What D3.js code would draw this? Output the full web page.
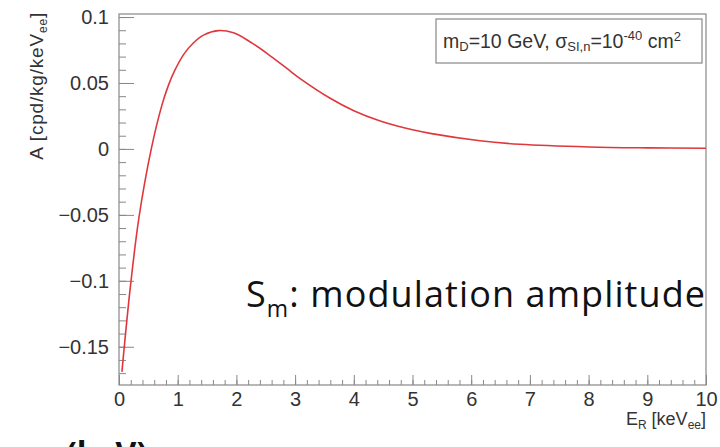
<!DOCTYPE html>
<html>
<head>
<meta charset="utf-8">
<script src="https://cdn.jsdelivr.net/npm/d3@7"></script>
<style>
  body { margin: 0; background: #fff; }
  svg { display: block; }
  .axis text { font-family: "Liberation Sans", Arial, sans-serif; fill: #333; }
  .axis line, .axis path { stroke: #888; }
</style>
</head>
<body>
<div id="chart"></div>
<script>
// recoil energy (keVee) and modulation amplitude
const energy = [0.05, 0.09, 0.2, 0.34, 0.55, 0.73, 0.84, 0.95, 1.1, 1.27, 1.44, 1.69, 1.95,
  2.23, 2.52, 2.86, 3.08, 3.59, 4.0, 4.45, 5.0, 5.3, 6.15, 6.83, 8, 9, 10];
const amplitude = [-0.169, -0.15, -0.102, -0.052, 0, 0.033, 0.048, 0.0595, 0.0715, 0.0805, 0.0863, 0.0897, 0.088,
  0.0813, 0.0725, 0.061, 0.0535, 0.0386, 0.029, 0.0212, 0.0145, 0.0118, 0.0062, 0.0035, 0.0015, 0.0008, 0.0005];
const xTicks = [0, 1, 2, 3, 4, 5, 6, 7, 8, 9, 10];
const yTicks = [-0.15, -0.1, -0.05, 0, 0.05, 0.1];
const yTickLabels = ['−0.15', '−0.1', '−0.05', '0', '0.05', '0.1'];

const data = energy.map((e, i) => ({e, a: amplitude[i]}));

const W = 720, H = 447;
const frame = {left: 119, right: 706, top: 14, bottom: 385};

const svg = d3.select('#chart').append('svg')
  .attr('width', W)
  .attr('height', H);

const x = d3.scaleLinear().domain([0, 10]).range([frame.left, frame.right]);
const y = d3.scaleLinear().domain([-0.179, 0.1023]).range([frame.bottom, frame.top]);

// frame box
svg.append('rect')
  .attr('x', frame.left)
  .attr('y', frame.top)
  .attr('width', frame.right - frame.left)
  .attr('height', frame.bottom - frame.top)
  .attr('fill', 'none')
  .attr('stroke', '#888')
  .attr('stroke-width', 1.2);

// minor ticks
svg.append('g')
  .attr('class', 'axis')
  .attr('transform', `translate(${frame.left},0)`)
  .call(d3.axisLeft(y).tickValues(d3.range(-0.17, 0.1001, 0.01)).tickSize(-7).tickFormat(''))
  .call(g => g.select('.domain').remove());
svg.append('g')
  .attr('class', 'axis')
  .attr('transform', `translate(0,${frame.bottom})`)
  .call(d3.axisBottom(x).tickValues(d3.range(0, 10.001, 0.2)).tickSize(-5).tickFormat(''))
  .call(g => g.select('.domain').remove());

// major ticks + labels
svg.append('g')
  .attr('class', 'axis')
  .attr('transform', `translate(${frame.left},0)`)
  .call(d3.axisLeft(y).tickValues(yTicks).tickSize(-15)
    .tickFormat((d, i) => yTickLabels[i]))
  .call(g => g.select('.domain').remove())
  .call(g => g.selectAll('text').attr('font-size', 20).attr('x', -10));
svg.append('g')
  .attr('class', 'axis')
  .attr('transform', `translate(0,${frame.bottom})`)
  .call(d3.axisBottom(x).tickValues(xTicks).tickSize(-10).tickFormat(d3.format('d')))
  .call(g => g.select('.domain').remove())
  .call(g => g.selectAll('text').attr('font-size', 20).attr('y', 7));

// curve
const line = d3.line()
  .x(d => x(d.e))
  .y(d => y(d.a))
  .curve(d3.curveCatmullRom.alpha(0.5));
svg.append('path')
  .datum(data)
  .attr('d', line)
  .attr('fill', 'none')
  .attr('stroke', '#e0373c')
  .attr('stroke-width', 1.6);

// axis titles
const sans = '"Liberation Sans", Arial, sans-serif';
const yTitle = svg.append('text')
  .attr('transform', `translate(43,${frame.top - 2}) rotate(-90)`)
  .attr('text-anchor', 'end')
  .attr('font-family', sans)
  .attr('font-size', 19)
  .attr('letter-spacing', 0.8)
  .attr('fill', '#333');
yTitle.append('tspan').text('A [cpd/kg/keV');
yTitle.append('tspan').attr('font-size', 12).attr('dy', 4).text('ee');
yTitle.append('tspan').attr('dy', -4).text(']');

const xTitle = svg.append('text')
  .attr('x', frame.right)
  .attr('y', 425)
  .attr('text-anchor', 'end')
  .attr('font-family', sans)
  .attr('font-size', 18)
  .attr('fill', '#333');
xTitle.append('tspan').text('E');
xTitle.append('tspan').attr('font-size', 12).attr('dy', 4).text('R');
xTitle.append('tspan').attr('dy', -4).text(' [keV');
xTitle.append('tspan').attr('font-size', 12).attr('dy', 4).text('ee');
xTitle.append('tspan').attr('dy', -4).text(']');

// legend box
svg.append('rect')
  .attr('x', 436)
  .attr('y', 19)
  .attr('width', 266)
  .attr('height', 44)
  .attr('fill', '#fff')
  .attr('stroke', '#888')
  .attr('stroke-width', 1.2);
const leg = svg.append('text')
  .attr('x', 443)
  .attr('y', 48)
  .attr('font-family', sans)
  .attr('font-size', 19.5)
  .attr('fill', '#333');
leg.append('tspan').text('m');
leg.append('tspan').attr('font-size', 13).attr('dy', 3).text('D');
leg.append('tspan').attr('dy', -3).text('=10 GeV, σ');
leg.append('tspan').attr('font-size', 13).attr('dy', 3).text('SI,n');
leg.append('tspan').attr('dy', -3).text('=10');
leg.append('tspan').attr('font-size', 13).attr('dy', -8).text('-40');
leg.append('tspan').attr('dy', 8).text(' cm');
leg.append('tspan').attr('font-size', 13).attr('dy', -7).text('2');

// slide annotation
const note = svg.append('text')
  .attr('x', 246)
  .attr('y', 307)
  .attr('font-family', '"Open Sans", Lato, sans-serif')
  .attr('font-size', 36)
  .attr('letter-spacing', 1.1)
  .attr('fill', '#111');
note.append('tspan').text('S');
note.append('tspan').attr('font-size', 23).attr('dy', 10).text('m');
note.append('tspan').attr('dy', -10).text(': modulation amplitude');

svg.append('text')
  .attr('x', 66)
  .attr('y', 465)
  .attr('font-family', '"Open Sans", Lato, sans-serif')
  .attr('font-weight', 'bold')
  .attr('font-size', 32)
  .attr('fill', '#111')
  .text('(keV)');
</script>
</body>
</html>
